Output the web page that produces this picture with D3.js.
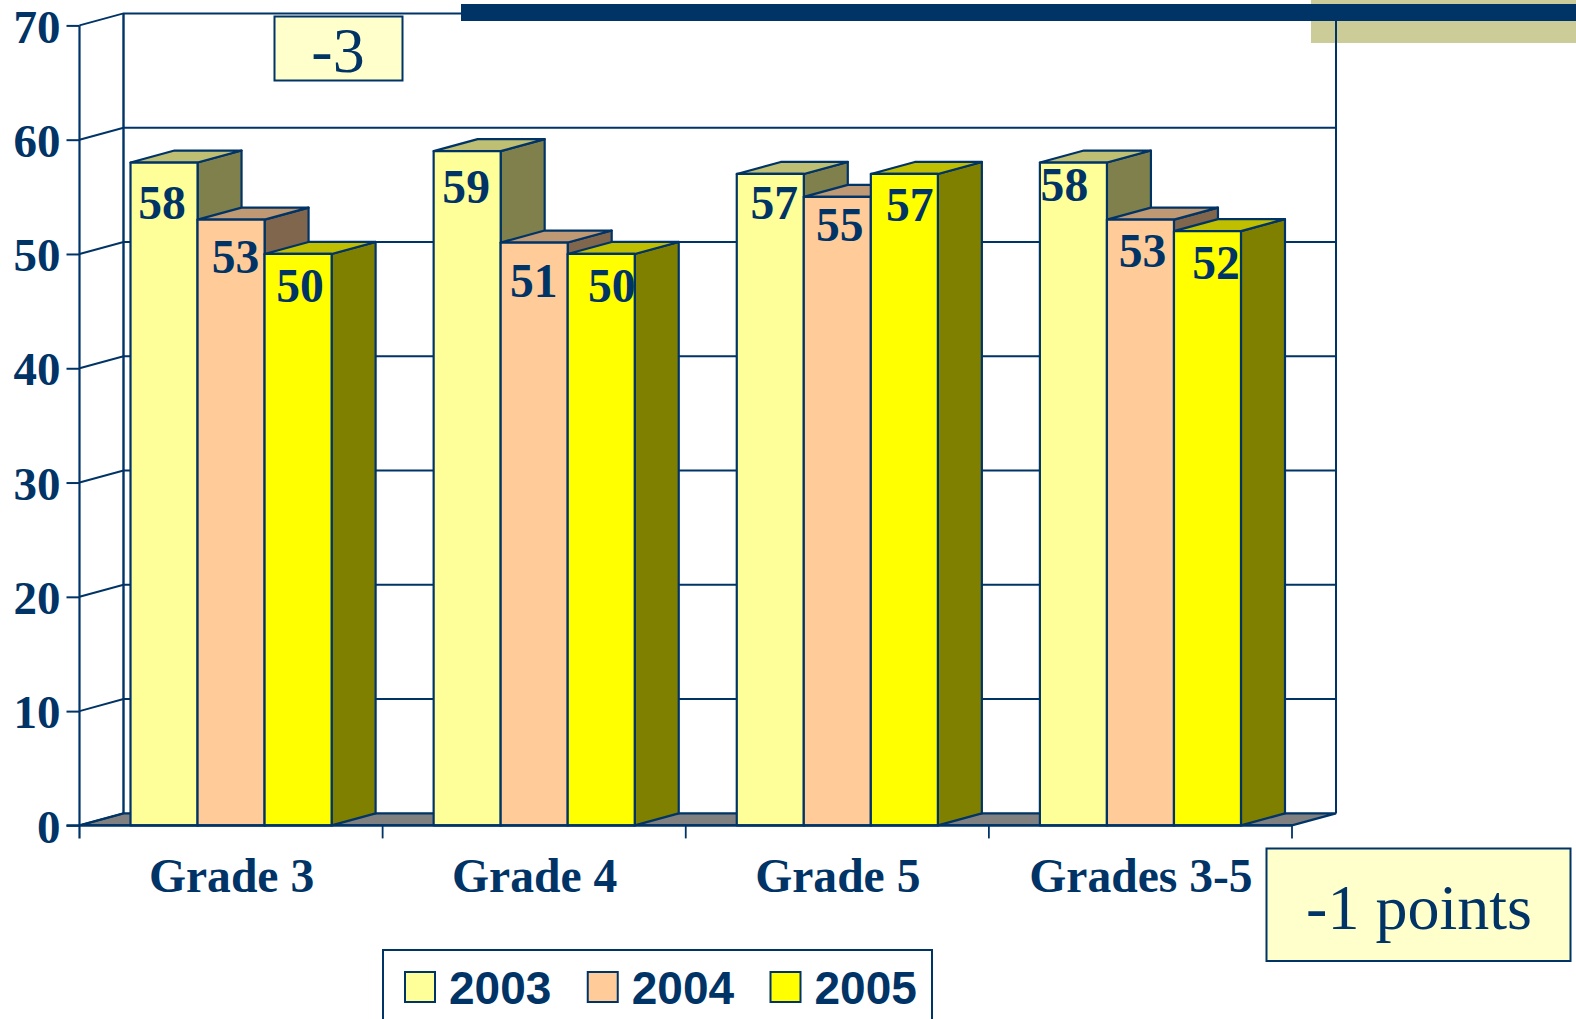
<!DOCTYPE html>
<html>
<head>
<meta charset="utf-8">
<script src="https://cdn.jsdelivr.net/npm/d3@7"></script>
<style>
html,body{margin:0;padding:0;background:#fff;overflow:hidden}
svg{display:block}
</style>
</head>
<body>
<script>
const categories = ["Grade 3", "Grade 4", "Grade 5", "Grades 3-5"];
const seriesNames = ["2003", "2004", "2005"];
const values2003 = [58, 59, 57, 58];
const values2004 = [53, 51, 55, 53];
const values2005 = [50, 50, 57, 52];
const yTicks = [0, 10, 20, 30, 40, 50, 60, 70];
const annotations = ["-3", "-1 points"];

// hand-placed label nudges of the original, per series then category
const labelNudgeX = [[-2, -1, 4, -9], [4.5, -0.5, 2.5, 2], [2, 10.5, 5.5, 8.5]];
const labelNudgeY = [[56.5, 52, 45.5, 38.5], [53, 54, 44, 47], [48.5, 48.5, 47, 47.5]];

const navy = "#003366";
const serif = "'Liberation Serif','Times New Roman',serif";
const sans = "'Liberation Sans',Arial,sans-serif";
const fills = [
  {front: "#FFFF99", top: "#BFBF73", side: "#80804D"},
  {front: "#FFCC99", top: "#BF9973", side: "#80664D"},
  {front: "#FFFF00", top: "#BFBF00", side: "#808000"}
];
const W = 1576, H = 1019;
const depthX = 44, depthY = 12;
const seriesValues = [values2003, values2004, values2005];

const svg = d3.select("body").append("svg").attr("width", W).attr("height", H);

const y = d3.scaleLinear().domain([0, 70]).range([825.4, 25.4]);
const x0 = d3.scaleBand().domain(categories).range([79.5, 1292])
  .paddingInner(0.3366).paddingOuter(0.1683);
const x1 = d3.scaleBand().domain(seriesNames).range([0, x0.bandwidth()]);

// khaki corner, behind the chart
svg.append("rect").attr("x", 1311).attr("y", 0).attr("width", W - 1311).attr("height", 43).attr("fill", "#CCCC99");

const chart = svg.append("g");
const [xL, xR] = x0.range();
const base = y(0);

// floor
chart.append("path")
  .attr("d", d3.line()([[xL, base], [xL + depthX, base - depthY], [xR + depthX, base - depthY], [xR, base]]) + "Z")
  .attr("fill", "#808080").attr("stroke", navy).attr("stroke-width", 2.2);

// walls
chart.append("g").selectAll("path").data(yTicks.filter(d => d > 0)).join("path")
  .attr("d", d => d3.line()([[xL, y(d)], [xL + depthX, y(d) - depthY], [xR + depthX, y(d) - depthY]]))
  .attr("fill", "none").attr("stroke", navy).attr("stroke-width", 2);
chart.append("line").attr("x1", xL + depthX).attr("x2", xL + depthX).attr("y1", y(70) - depthY).attr("y2", base - depthY)
  .attr("stroke", navy).attr("stroke-width", 2.4);
chart.append("line").attr("x1", xR + depthX).attr("x2", xR + depthX).attr("y1", y(70) - depthY).attr("y2", base - depthY)
  .attr("stroke", navy).attr("stroke-width", 2);
chart.append("line").attr("x1", xL).attr("x2", xL + depthX).attr("y1", base).attr("y2", base - depthY)
  .attr("stroke", navy).attr("stroke-width", 2);

// bars, left to right so later bars overlap earlier depth faces
const line = d3.line();
categories.forEach((cat, ci) => {
  seriesNames.forEach((s, si) => {
    const v = seriesValues[si][ci];
    const l = x0(cat) + x1(s), r = l + x1.bandwidth(), t = y(v);
    const g = chart.append("g").attr("stroke", navy).attr("stroke-width", 2.2).attr("stroke-linejoin", "round");
    g.append("path").attr("d", line([[r, t], [r + depthX, t - depthY], [r + depthX, base - depthY], [r, base]]) + "Z").attr("fill", fills[si].side);
    g.append("path").attr("d", line([[l, t], [l + depthX, t - depthY], [r + depthX, t - depthY], [r, t]]) + "Z").attr("fill", fills[si].top);
    g.append("rect").attr("x", l).attr("y", t).attr("width", r - l).attr("height", base - t).attr("fill", fills[si].front);
  });
});

// axes
const yAxis = chart.append("g").attr("transform", `translate(${xL},0)`)
  .call(d3.axisLeft(y).tickValues(yTicks).tickSize(13).tickPadding(6).tickSizeOuter(0));
yAxis.select(".domain").attr("stroke", navy).attr("stroke-width", 2.2).attr("d", `M0,${y(70)}V${base + 13}`);
yAxis.selectAll(".tick line").attr("stroke", navy).attr("stroke-width", 2);
yAxis.selectAll("text")
  .attr("fill", navy).attr("font-family", serif).attr("font-weight", "bold").attr("font-size", 47)
  .attr("dy", 16.6);

const xAxis = chart.append("g").attr("transform", `translate(0,${base})`)
  .call(d3.axisBottom(x0).tickSize(0).tickPadding(0));
xAxis.select(".domain").attr("stroke", navy).attr("stroke-width", 2.4).attr("d", `M${xL - 13},0H${xR}`);
xAxis.selectAll("text")
  .attr("fill", navy).attr("font-family", serif).attr("font-weight", "bold").attr("font-size", 47.6)
  .attr("y", 66.5).attr("dy", 0).attr("dx", 0.5);

// category separator ticks
chart.append("g").selectAll("line").data(categories.map(c => x0(c) + x0.bandwidth() + x0.step() * x0.paddingInner() / 2)).join("line")
  .attr("x1", d => d).attr("x2", d => d).attr("y1", base).attr("y2", base + 13)
  .attr("stroke", navy).attr("stroke-width", 1.8);

// value labels
categories.forEach((cat, ci) => {
  seriesNames.forEach((s, si) => {
    const v = seriesValues[si][ci];
    chart.append("text")
      .attr("x", x0(cat) + x1(s) + x1.bandwidth() / 2 + labelNudgeX[si][ci])
      .attr("y", y(v) + labelNudgeY[si][ci])
      .attr("text-anchor", "middle").attr("fill", navy)
      .attr("font-family", serif).attr("font-weight", "bold").attr("font-size", 47.6)
      .text(v);
  });
});

// navy band, over the chart
svg.append("rect").attr("x", 461).attr("y", 4).attr("width", W - 461).attr("height", 17).attr("fill", navy);

// annotation boxes
function note(bx, by, bw, bh, tx, ty, txt) {
  svg.append("rect").attr("x", bx).attr("y", by).attr("width", bw).attr("height", bh)
    .attr("fill", "#FFFFCC").attr("stroke", navy).attr("stroke-width", 2);
  svg.append("text").attr("x", tx).attr("y", ty).attr("text-anchor", "middle")
    .attr("fill", navy).attr("font-family", serif).attr("font-size", 64).text(txt);
}
note(274.5, 16.5, 128, 64, 338, 71.5, annotations[0]);
note(1266.5, 848.5, 304, 112.5, 1419, 928.5, annotations[1]);

// legend
const legend = svg.append("g");
legend.append("rect").attr("x", 383).attr("y", 950).attr("width", 549).attr("height", 90)
  .attr("fill", "#fff").attr("stroke", navy).attr("stroke-width", 2);
const legendScale = d3.scalePoint().domain(seriesNames).range([405, 770.5]);
seriesNames.forEach((s, si) => {
  legend.append("rect").attr("x", legendScale(s)).attr("y", 972).attr("width", 30).attr("height", 30)
    .attr("fill", fills[si].front).attr("stroke", navy).attr("stroke-width", 2);
  legend.append("text").attr("x", legendScale(s) + 44).attr("y", 1003.5)
    .attr("fill", navy).attr("font-family", sans).attr("font-weight", "bold").attr("font-size", 46).text(s);
});
</script>
</body>
</html>
